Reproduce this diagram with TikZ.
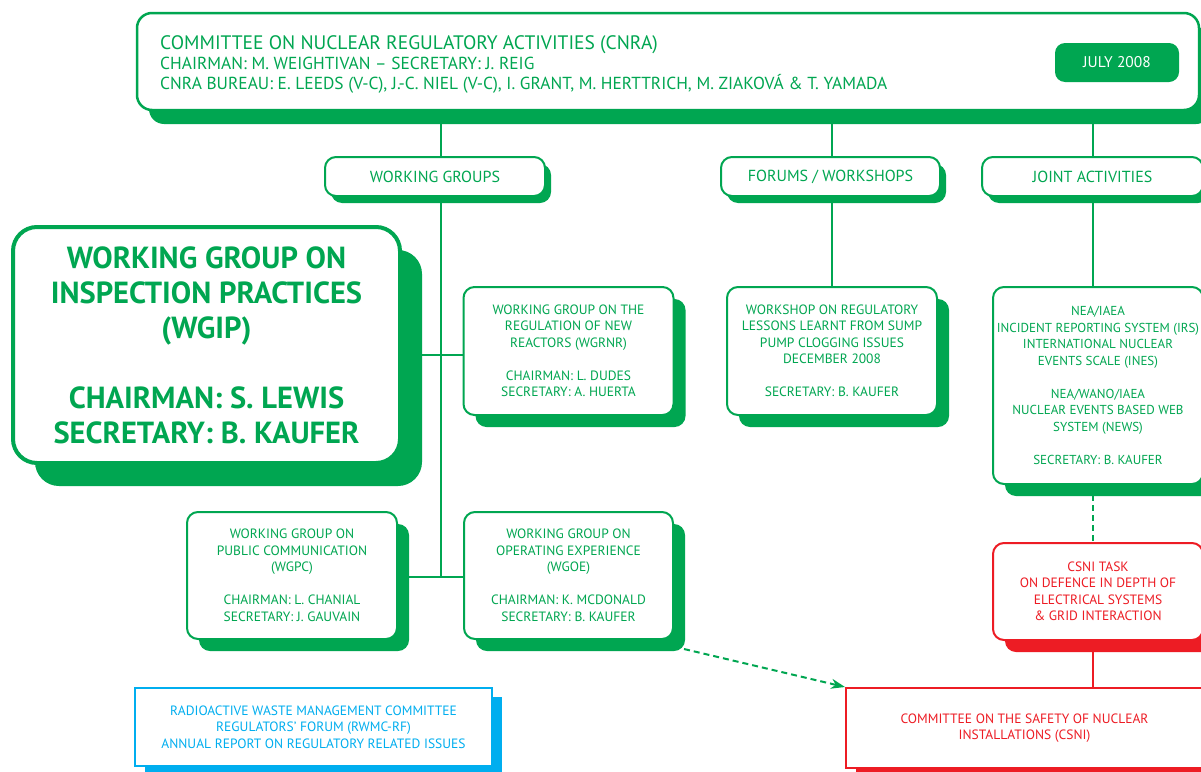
\documentclass[tikz,border=0pt]{standalone}
\usepackage{fontspec}
\setmainfont{PT Sans}
\usetikzlibrary{shadows,arrows.meta,backgrounds}
\definecolor{oecdgreen}{HTML}{00A651}
\definecolor{oecdred}{HTML}{ED1C24}
\definecolor{oecdblue}{HTML}{00AEEF}

\begin{document}
\begin{tikzpicture}[x=1pt,y=-1pt]
        \tikzstyle{orgbox}=[draw=oecdgreen,fill=white,text=oecdgreen,line width=2pt,rounded corners=11pt,align=center,inner sep=0pt,font=\fontsize{13.5}{16.5}\selectfont]
        \tikzstyle{wgbox}=[orgbox,minimum width=210pt,minimum height=128pt,drop shadow={shadow xshift=12pt,shadow yshift=-12pt,opacity=1,fill=oecdgreen}]
        \tikzstyle{tabbox}=[orgbox,minimum width=220pt,minimum height=39pt,font=\fontsize{16}{16}\selectfont,drop shadow={shadow xshift=6pt,shadow yshift=-7pt,opacity=1,fill=oecdgreen}]
        \tikzstyle{redbox}=[orgbox,draw=oecdred,text=oecdred,minimum width=210pt,minimum height=97pt,drop shadow={shadow xshift=12pt,shadow yshift=-12pt,opacity=1,fill=oecdred}]
        \tikzstyle{link}=[oecdgreen,line width=2pt]
        \tikzstyle{dashlink}=[link,dash pattern=on 6pt off 4pt]
        \useasboundingbox (0,0) rectangle (1201,771);
        % committee header
        \node[orgbox,minimum width=1062pt,minimum height=97pt,rounded corners=15pt,line width=2.5pt,drop shadow={shadow xshift=12pt,shadow yshift=-14pt,opacity=1,fill=oecdgreen}] (cnra) at (668,61.5) {};
        \node[anchor=west,align=left,text=oecdgreen,inner sep=0pt,font=\fontsize{17.4}{20}\selectfont] (cnratitle) at (160,64)
        {{\fontsize{19.5}{20}\selectfont COMMITTEE ON NUCLEAR REGULATORY ACTIVITIES (CNRA)}\\
        CHAIRMAN: M. WEIGHTIVAN – SECRETARY: J. REIG\\
        CNRA BUREAU: E. LEEDS (V-C), J.-C. NIEL (V-C), I. GRANT, M. HERTTRICH, M. ZIAKOVÁ \& T. YAMADA};
        \node[fill=oecdgreen,text=white,rounded corners=10pt,minimum width=124pt,minimum height=39pt,font=\fontsize{15.5}{16}\selectfont] (july) at (1117,62.5) {JULY 2008};
        % second level
        \node[tabbox] (wg) at (435,176.5) {WORKING GROUPS};
        \node[tabbox,minimum width=219pt] (forums) at (830.5,176.5) {FORUMS / WORKSHOPS};
        \node[tabbox,minimum width=221pt] (joint) at (1092.5,176.5) {JOINT ACTIVITIES};
        \coordinate (trunk) at (441,577);
        \coordinate (branch) at (441,355);
        % groups
        \node[orgbox,line width=4pt,rounded corners=24pt,minimum width=387pt,minimum height=236pt,font=\bfseries\fontsize{30.5}{35}\selectfont,drop shadow={shadow xshift=22pt,shadow yshift=-23pt,opacity=1,fill=oecdgreen}] (wgip) at (206.5,345)
        {WORKING GROUP ON\\INSPECTION PRACTICES\\(WGIP)\\[35pt]CHAIRMAN: S. LEWIS\\SECRETARY: B. KAUFER};
        \node[wgbox] (wgrnr) at (568.5,351) {WORKING GROUP ON THE\\REGULATION OF NEW\\REACTORS (WGRNR)\\[16.5pt]CHAIRMAN: L. DUDES\\SECRETARY: A. HUERTA};
        \node[wgbox] (sump) at (832,351) {WORKSHOP ON REGULATORY\\LESSONS LEARNT FROM SUMP\\PUMP CLOGGING ISSUES\\DECEMBER 2008\\[16.5pt]SECRETARY: B. KAUFER};
        \node[wgbox,minimum height=197pt,font=\fontsize{13}{16.5}\selectfont] (irs) at (1098,385.5) {NEA/IAEA\\INCIDENT REPORTING SYSTEM (IRS)\\INTERNATIONAL NUCLEAR\\EVENTS SCALE (INES)\\[16.5pt]NEA/WANO/IAEA\\NUCLEAR EVENTS BASED WEB\\SYSTEM (NEWS)\\[16.5pt]SECRETARY: B. KAUFER};
        \node[wgbox,minimum height=127pt] (wgpc) at (292,575.5) {WORKING GROUP ON\\PUBLIC COMMUNICATION\\(WGPC)\\[16.5pt]CHAIRMAN: L. CHANIAL\\SECRETARY: J. GAUVAIN};
        \node[wgbox,minimum width=209pt,minimum height=127pt] (wgoe) at (568.5,575.5) {WORKING GROUP ON\\OPERATING EXPERIENCE\\(WGOE)\\[16.5pt]CHAIRMAN: K. MCDONALD\\SECRETARY: B. KAUFER};
        % other committees
        \node[redbox] (csnitask) at (1098,591.5) {CSNI TASK\\ON DEFENCE IN DEPTH OF\\ELECTRICAL SYSTEMS\\\& GRID INTERACTION};
        \node[redbox,rounded corners=0pt,minimum width=357pt,minimum height=80pt,drop shadow={shadow xshift=10pt,shadow yshift=-8pt,opacity=1,fill=oecdred}] (csni) at (1024.5,728) {COMMITTEE ON THE SAFETY OF NUCLEAR\\INSTALLATIONS (CSNI)};
        \node[orgbox,draw=oecdblue,text=oecdblue,rounded corners=0pt,minimum width=357pt,minimum height=78pt,drop shadow={shadow xshift=10pt,shadow yshift=-9pt,opacity=1,fill=oecdblue}] (rwmc) at (313.5,727) {RADIOACTIVE WASTE MANAGEMENT COMMITTEE\\REGULATORS' FORUM (RWMC-RF)\\ANNUAL REPORT ON REGULATORY RELATED ISSUES};
        \begin{scope}[on background layer]
        \fill[white] (0,0) rectangle (1201,771);
        \draw[link] (trunk |- cnra.south) -- (trunk);
        \draw[link] (sump.north |- cnra.south) -- (sump.north);
        \draw[link] (joint.south |- cnra.south) -- (joint.south |- irs.north);
        \draw[link] (branch -| wgip.east) -- (branch -| wgrnr.west);
        \draw[link] (trunk -| wgpc.east) -- (trunk -| wgoe.west);
        \draw[dashlink] (joint.south |- irs.south) -- (joint.south |- csnitask.north);
        \draw[link,oecdred] (joint.south |- csnitask.south) -- (joint.south |- csni.north);
        \end{scope}
        \draw[dashlink,-{Stealth[length=14pt,width=10pt]}] ([shift={(10,9)}]wgoe.south east) -- (csni.north west);
\end{tikzpicture}
\end{document}
